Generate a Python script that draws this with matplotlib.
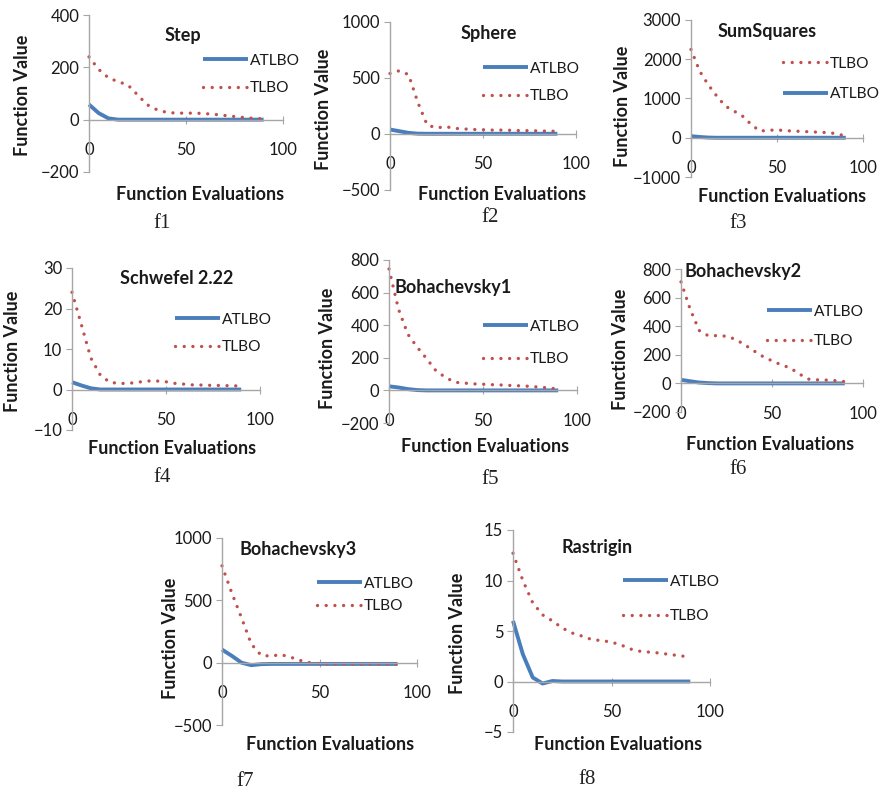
import matplotlib
matplotlib.use("Agg")
import matplotlib.pyplot as plt

plt.rcParams['font.family'] = ['Lato', 'DejaVu Sans']

W, H = 880, 790

# ---------------- data ----------------
evals = [0, 5, 10, 15, 20, 25, 30, 35, 40, 45, 50, 55, 60, 65, 70, 75, 80, 85, 90]

titles = ["Step", "Sphere", "SumSquares", "Schwefel 2.22",
          "Bohachevsky1", "Bohachevsky2", "Bohachevsky3", "Rastrigin"]
panel_labels = ["f1", "f2", "f3", "f4", "f5", "f6", "f7", "f8"]

tlbo_f1 = [240, 192, 160, 145, 133, 95, 57, 38, 28, 25, 25, 25, 23, 20, 16, 12, 8, 5, 3]
atlbo_f1 = [58, 25, 5, 0, 0, 0, 0, 0, 0, 0, 0, 0, 0, 0, 0, 0, 0, 0, 0]

tlbo_f2 = [540, 565, 530, 280, 80, 55, 65, 50, 45, 40, 38, 35, 35, 33, 30, 30, 28, 25, 25]
atlbo_f2 = [40, 25, 10, 3, 2, 2, 2, 2, 2, 2, 2, 2, 2, 2, 2, 2, 2, 2, 2]

tlbo_f3 = [2250, 1700, 1350, 1060, 805, 680, 550, 340, 170, 190, 200, 180, 170, 160, 150, 140, 130, 100, 40]
atlbo_f3 = [40, 20, 5, 0, 0, 0, 0, 0, 0, 0, 0, 0, 0, 0, 0, 0, 0, 0, 0]

tlbo_f4 = [24, 16, 7.8, 3.6, 1.8, 1.5, 1.5, 1.8, 2.1, 2.1, 1.9, 1.5, 1.3, 1.1, 1.1, 1.0, 1.0, 0.9, 0.9]
atlbo_f4 = [1.8, 1.0, 0.3, 0, 0, 0, 0, 0, 0, 0, 0, 0, 0, 0, 0, 0, 0, 0, 0]

tlbo_f5 = [745, 500, 345, 265, 195, 120, 80, 50, 45, 40, 38, 35, 33, 30, 28, 25, 20, 15, 8]
atlbo_f5 = [25, 18, 8, 2, 0, 0, 0, 0, 0, 0, 0, 0, 0, 0, 0, 0, 0, 0, 0]

tlbo_f6 = [710, 520, 370, 333, 334, 330, 308, 270, 228, 188, 158, 130, 108, 66, 30, 25, 23, 19, 12]
atlbo_f6 = [25, 15, 6, 2, 0, 0, 0, 0, 0, 0, 0, 0, 0, 0, 0, 0, 0, 0, 0]

tlbo_f7 = [777, 560, 360, 150, 60, 52, 65, 45, 18, 0, -8, -10, -12, -12, -12, -12, -12, -12, -12]
atlbo_f7 = [105, 55, 0, -20, -12, -10, -10, -10, -10, -10, -10, -10, -10, -10, -10, -10, -10, -10, -10]

tlbo_f8 = [12.7, 10.0, 7.8, 6.6, 6.0, 5.3, 4.8, 4.5, 4.15, 4.05, 3.9, 3.6, 3.2, 2.97, 2.9, 2.8, 2.66, 2.55, 2.4]
atlbo_f8 = [6.0, 2.7, 0.4, -0.2, 0.05, 0, 0, 0, 0, 0, 0, 0, 0, 0, 0, 0, 0, 0, 0]

tlbo = [tlbo_f1, tlbo_f2, tlbo_f3, tlbo_f4, tlbo_f5, tlbo_f6, tlbo_f7, tlbo_f8]
atlbo = [atlbo_f1, atlbo_f2, atlbo_f3, atlbo_f4, atlbo_f5, atlbo_f6, atlbo_f7, atlbo_f8]

y_ticks = [
    [-200, 0, 200, 400],
    [-500, 0, 500, 1000],
    [-1000, 0, 1000, 2000, 3000],
    [-10, 0, 10, 20, 30],
    [-200, 0, 200, 400, 600, 800],
    [-200, 0, 200, 400, 600, 800],
    [-500, 0, 500, 1000],
    [-5, 0, 5, 10, 15],
]
x_ticks = [0, 50, 100]
tlbo_first = [False, False, True, False, False, False, False, False]

# ---------------- layout (pixels) ----------------
axes_px = [
    (89, 283, 15, 172),
    (390, 576, 22, 190),
    (691, 863, 20, 177),
    (72, 260, 268, 430),
    (389, 577, 260, 423),
    (681, 863, 269, 412),
    (222, 417, 538, 725),
    (513, 710, 530, 732),
]
title_px = [(183, 35), (489, 33), (767, 32), (177, 279), (453, 288), (743, 272), (298, 550), (597, 547)]
xlab_px = [(200, 195), (502, 195), (782, 197), (172, 449), (485, 447), (770, 445), (330, 745), (618, 745)]
ylab_px = [(22, 95), (323, 109), (622, 106), (13, 351), (327, 348), (620, 349), (170, 638), (457, 633)]
flab_px = [(162, 224), (490, 218), (738, 224), (162, 477), (490, 480), (738, 470), (245, 781), (587, 780)]
leg_px = [(203, 60, 89), (483, 68, 97), (783, 63, 95), (175, 319, 348),
          (483, 326, 360), (767, 311, 342), (317, 583, 607), (623, 581, 617)]

blue = '#4A7EBB'
red = '#C0504D'
axis_col = '#A6A6A6'
text_col = '#1a1a1a'

fig = plt.figure(figsize=(W / 100, H / 100), dpi=100)


def fx(x):
    return x / W


def fy(y):
    return 1 - y / H


for i in range(8):
    x0, x1, yt, yb = axes_px[i]
    ax = fig.add_axes([fx(x0), fy(yb), (x1 - x0) / W, (yb - yt) / H])
    ax.set_facecolor('none')
    ax.set_xlim(0, 100)
    ax.set_ylim(y_ticks[i][0], y_ticks[i][-1])
    ax.set_xticks(x_ticks)
    ax.set_yticks(y_ticks[i])
    for s in ['top', 'right']:
        ax.spines[s].set_visible(False)
    ax.spines['left'].set_position(('data', 0))
    ax.spines['bottom'].set_position(('data', 0))
    for s in ['left', 'bottom']:
        ax.spines[s].set_color(axis_col)
        ax.spines[s].set_linewidth(1.0)
    ax.tick_params(axis='y', direction='out', length=4, color=axis_col, pad=3,
                   labelsize=12, labelcolor=text_col)
    ax.tick_params(axis='x', direction='inout', length=6, color=axis_col, pad=13,
                   labelsize=12, labelcolor=text_col)

    la, = ax.plot(evals, atlbo[i], color=blue, lw=2.8, solid_capstyle='butt',
                  label='ATLBO', clip_on=False)
    lt, = ax.plot(evals, tlbo[i], color=red, lw=2.4, linestyle=(0, (0.01, 2.6)),
                  dash_capstyle='round', label='TLBO', clip_on=False)

    handles = [lt, la] if tlbo_first[i] else [la, lt]
    lx, r1, r2 = leg_px[i]
    spacing = r2 - r1
    fs = 11.2
    fs_px = fs * 100 / 72
    leg = ax.legend(handles=handles, loc='center left', frameon=False,
                    bbox_to_anchor=(fx(lx), fy((r1 + r2) / 2)),
                    bbox_transform=fig.transFigure,
                    fontsize=fs, handlelength=2.9, handletextpad=0.12,
                    borderpad=0, borderaxespad=0,
                    labelspacing=max(0.05, (spacing - fs_px * 1.0) / fs_px))
    for t in leg.get_texts():
        t.set_color(text_col)

    tx, ty = title_px[i]
    fig.text(fx(tx), fy(ty), titles[i], ha='center', va='center',
             fontsize=13, fontweight='bold', color=text_col)
    xx, xy = xlab_px[i]
    fig.text(fx(xx), fy(xy), 'Function Evaluations', ha='center', va='center',
             fontsize=13, fontweight='bold', color=text_col)
    yx, yy = ylab_px[i]
    fig.text(fx(yx), fy(yy), 'Function Value', ha='center', va='center',
             rotation=90, fontsize=13, fontweight='bold', color=text_col)
    px_, py_ = flab_px[i]
    fig.text(fx(px_), fy(py_), panel_labels[i], ha='center', va='center',
             fontsize=15, family='Liberation Serif', color='#222222')

fig.savefig('out.png', dpi=100, facecolor='white')
